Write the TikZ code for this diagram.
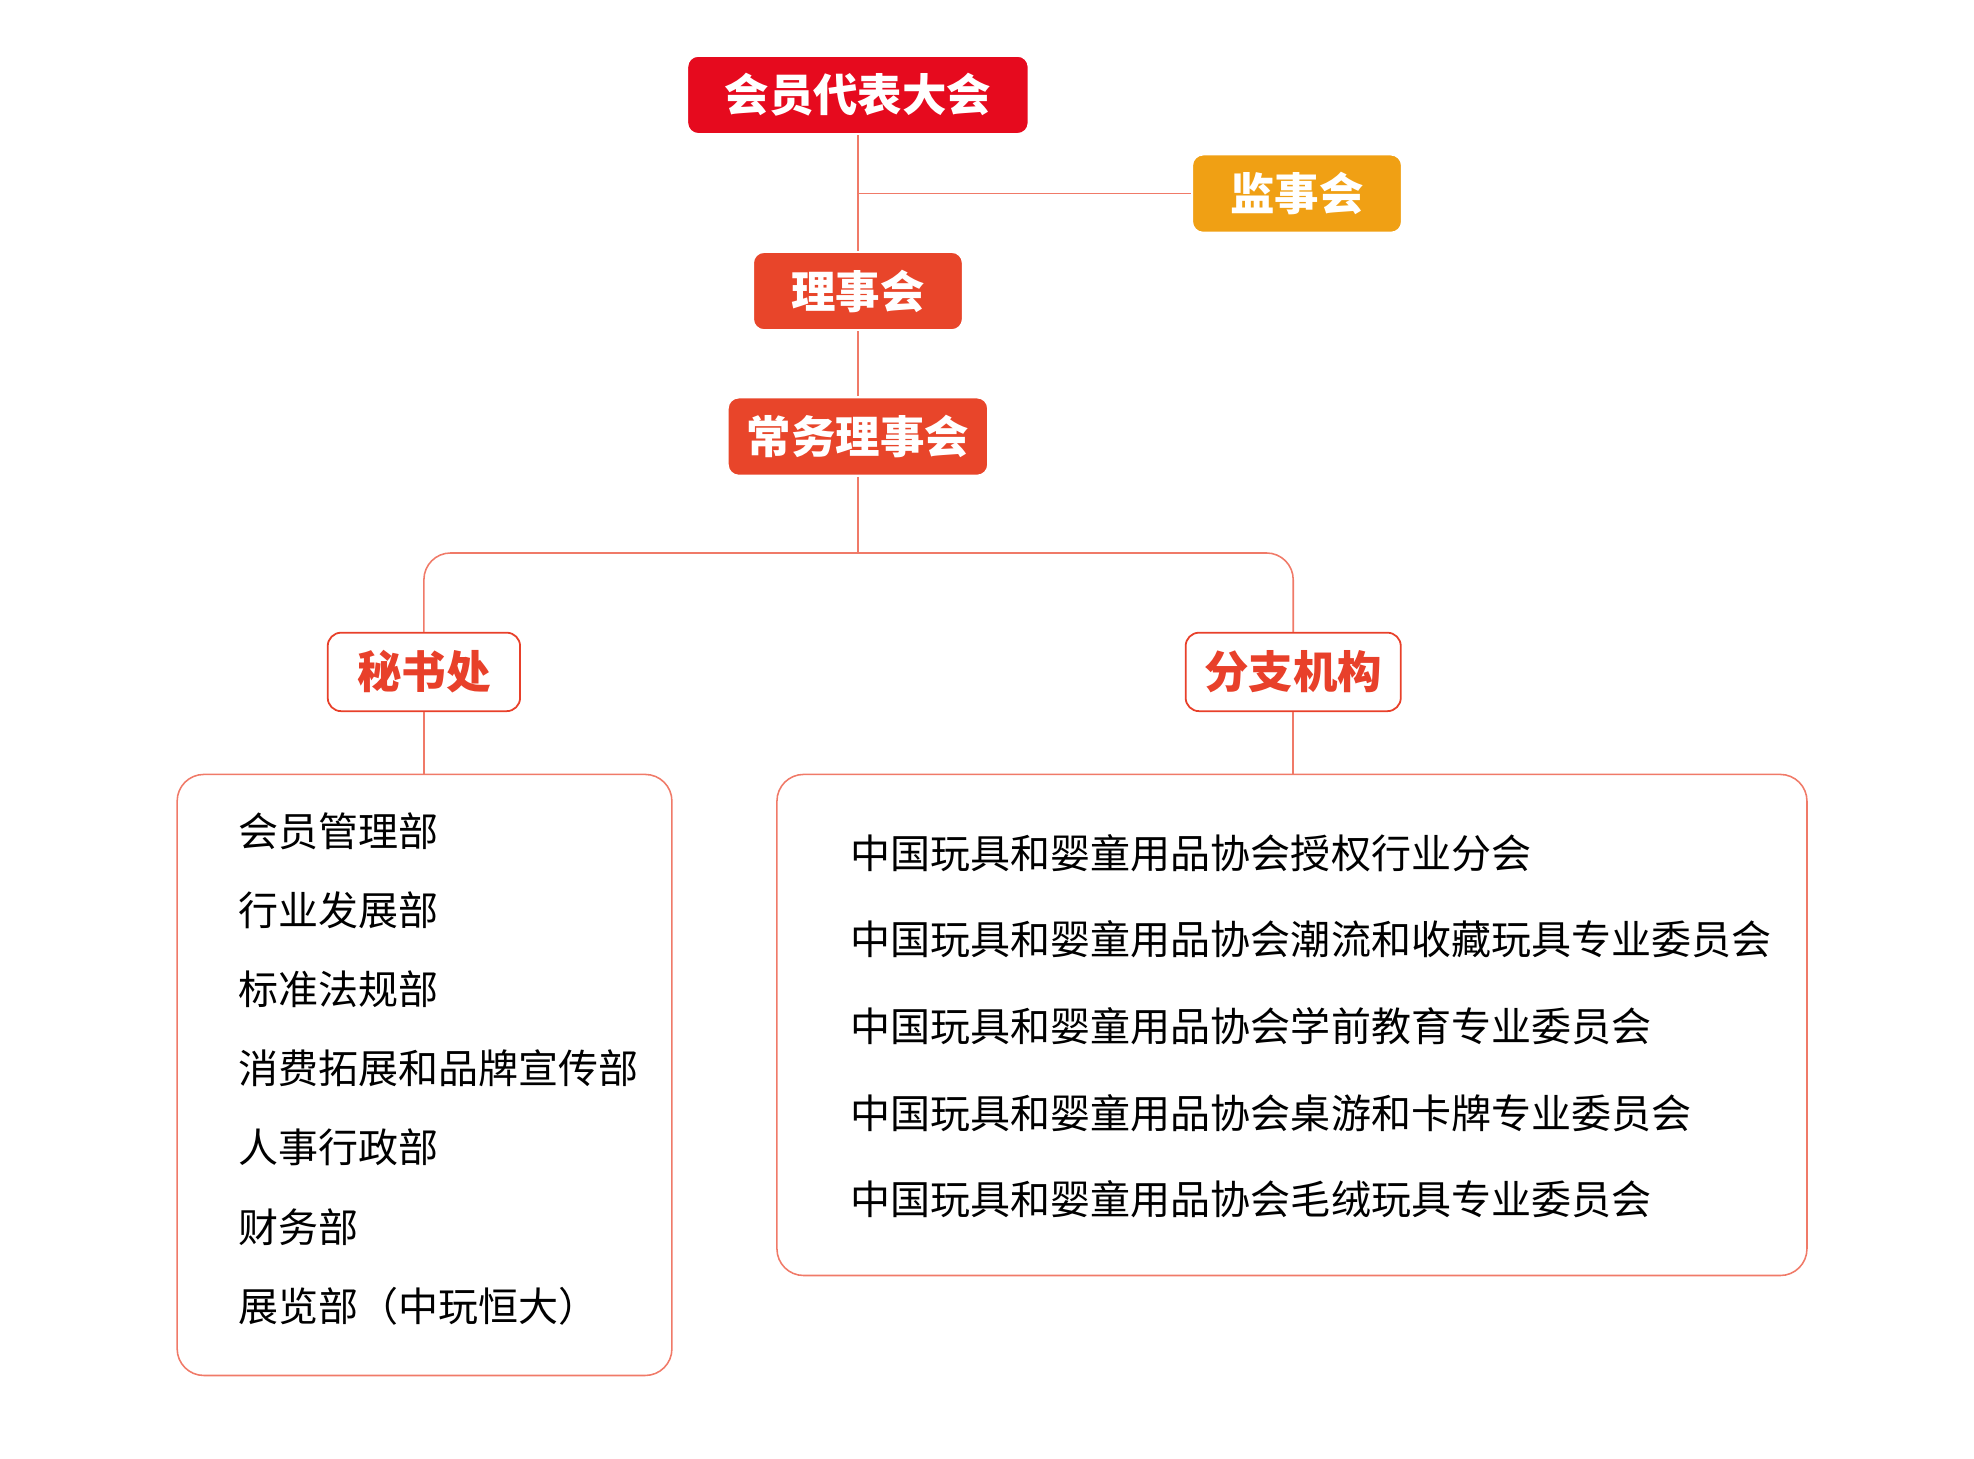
\documentclass[tikz,border=0pt]{standalone}
\usepackage{fontspec}
\newfontfamily\cjk{Noto Sans CJK SC}
\usetikzlibrary{positioning}
\definecolor{hdred}{HTML}{E60A1E}
\definecolor{hdorange}{HTML}{F0A014}
\definecolor{hdmid}{HTML}{E8452A}
\definecolor{lnred}{HTML}{F07A68}
\definecolor{txred}{HTML}{E8402A}

\tikzset{
  head/.style={rounded corners=5pt,minimum height=62*0.02cm,text=white,
    font=\cjk\bfseries\fontsize{20}{24}\selectfont,draw=white,line width=1pt},
  sub/.style={rounded corners=6pt,minimum height=62*0.02cm,fill=white,draw=txred,
    line width=0.8pt,text=txred,font=\cjk\bfseries\fontsize{20}{24}\selectfont},
  link/.style={lnred,line width=0.7pt},
  item/.style={anchor=west,inner sep=0pt,font=\cjk\fontsize{18}{22}\selectfont}
}

\begin{document}
\begin{tikzpicture}[x=0.02cm,y=-0.02cm]
  \useasboundingbox (0,0) rectangle (1560,1153);
  % top levels
  \node[head,fill=hdred,minimum width=270*0.02cm] (congress) at (678,75) {会员代表大会};
  \node[head,fill=hdorange,minimum width=166*0.02cm] (supervise) at (1025,153) {监事会};
  \node[head,fill=hdmid,minimum width=166*0.02cm] (council) at (678,230) {理事会};
  \node[head,fill=hdmid,minimum width=206*0.02cm] (standing) at (678,345) {常务理事会};
  \node[sub,minimum width=152*0.02cm] (secretariat) at (335,531) {秘书处};
  \node[sub,minimum width=170*0.02cm] (branch) at (1022,531) {分支机构};
  \coordinate (split) at (678,437);
  \coordinate (mid) at (678,153);
  % boxes
  \draw[link,rounded corners=12pt] (140,612) rectangle (531,1087);
  \draw[link,rounded corners=12pt] (614,612) rectangle (1428,1008);
  % connectors
  \draw[link] (congress) -- (council);
  \draw[link] (mid) -- (supervise);
  \draw[link] (council) -- (standing);
  \draw[link] (standing) -- (split);
  \draw[link,rounded corners=12pt] (split) -| (secretariat);
  \draw[link,rounded corners=12pt] (split) -| (branch);
  \draw[link] (secretariat) -- (secretariat |- 0,612);
  \draw[link] (branch) -- (branch |- 0,612);
  % departments
  \foreach \t [count=\i] in {会员管理部,行业发展部,标准法规部,消费拓展和品牌宣传部,人事行政部,财务部,展览部（中玩恒大）}
    \node[item] (dept\i) at (188,{657+62.5*(\i-1)}) {\t};
  \foreach \t [count=\i] in {中国玩具和婴童用品协会授权行业分会,中国玩具和婴童用品协会潮流和收藏玩具专业委员会,中国玩具和婴童用品协会学前教育专业委员会,中国玩具和婴童用品协会桌游和卡牌专业委员会,中国玩具和婴童用品协会毛绒玩具专业委员会}
    \node[item] (unit\i) at (672,{674+68.5*(\i-1)}) {\t};
\end{tikzpicture}
\end{document}
